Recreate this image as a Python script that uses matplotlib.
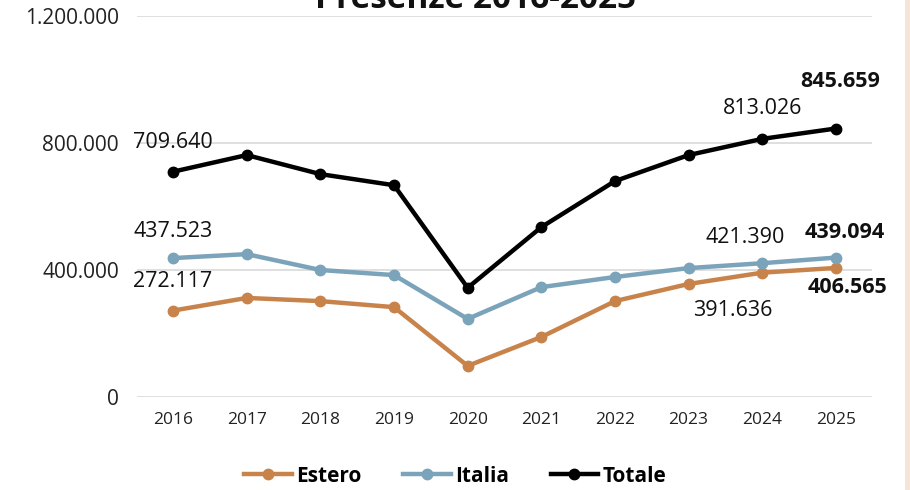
import matplotlib
matplotlib.use("Agg")
import matplotlib.pyplot as plt
from matplotlib.patches import Rectangle
from matplotlib.ticker import FuncFormatter

years = ["2016", "2017", "2018", "2019", "2020", "2021", "2022", "2023", "2024", "2025"]
estero = [272117, 312000, 302000, 283000, 98000, 189000, 302000, 356000, 391636, 406565]
italia = [437523, 450000, 400000, 384000, 246000, 346000, 378000, 406000, 421390, 439094]
totale = [709640, 762000, 702000, 667000, 344000, 535000, 680000, 762000, 813026, 845659]
yticks = [0, 400000, 800000, 1200000]

FONT = "Open Sans"
plt.rcParams['font.family'] = [FONT, 'DejaVu Sans']

def fmt(v):
    return f"{int(v):,}".replace(",", ".")

fig = plt.figure(figsize=(9.1, 4.9), dpi=100)
ax = fig.add_axes([137/910, 1-397/490, (872-137)/910, (397-16)/490])

x = list(range(len(years)))
c_est = "#C8834A"
c_ita = "#7BA3BA"
c_tot = "#000000"
ax.plot(x, estero, color=c_est, lw=3.2, marker='o', ms=7.5, label="Estero", zorder=3)
ax.plot(x, italia, color=c_ita, lw=3.2, marker='o', ms=7.5, label="Italia", zorder=3)
ax.plot(x, totale, color=c_tot, lw=3.2, marker='o', ms=7.5, label="Totale", zorder=4)

ax.set_xlim(-0.49, len(years) - 0.51)
ax.set_ylim(0, 1200000)
ax.set_yticks(yticks)
ax.yaxis.set_major_formatter(FuncFormatter(lambda v, p: fmt(v)))
ax.set_xticks(x)
ax.set_xticklabels(years)
ax.grid(axis='y', color='#D9D9D9', lw=1.2)
ax.set_axisbelow(True)
for s in ax.spines.values():
    s.set_visible(False)
ax.tick_params(axis='both', length=0, colors='#222222')
ax.tick_params(axis='y', labelsize=15, pad=13)
ax.tick_params(axis='x', labelsize=12.5, pad=11)

P = 0.72  # px -> pt

def lab(i, series, dx_px, dy_px, bold=False):
    ax.annotate(fmt(series[i]), (x[i], series[i]), xytext=(dx_px * P, dy_px * P),
                textcoords='offset points', ha='center', va='center',
                fontsize=15.5, fontweight='bold' if bold else 'normal',
                color='#111111', zorder=5)

lab(0, totale, 0, 29)
lab(0, italia, 0, 27)
lab(0, estero, 0, 29)
lab(8, totale, 0, 30)
lab(9, totale, 4, 47, bold=True)
lab(8, italia, -17, 26)
lab(9, italia, 9, 25, bold=True)
lab(8, estero, -30, -38)
lab(9, estero, 12, -20, bold=True)

fig.text(476/910, 1-8/490, "Presenze 2016-2025", ha='center', va='baseline',
         fontsize=24, fontweight='bold', color='#111111')

leg = fig.legend(loc='center', bbox_to_anchor=(0.5, 1-476/490), ncol=3, frameon=False,
                 prop={'weight': 'bold', 'size': 15}, handlelength=2.3, handletextpad=0.2,
                 columnspacing=2.0)

fig.patches.append(Rectangle((905/910, 0), 5/910, 1, transform=fig.transFigure,
                             facecolor='#F6E5D6', edgecolor='none'))

fig.savefig("out.png", dpi=100)
